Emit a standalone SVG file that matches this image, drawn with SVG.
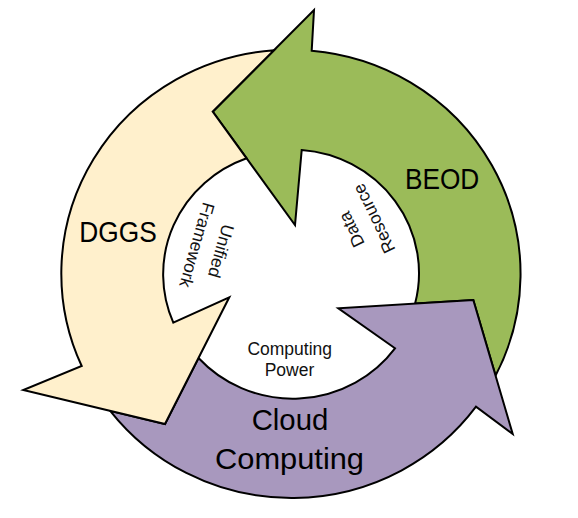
<svg xmlns="http://www.w3.org/2000/svg" width="578" height="518" viewBox="0 0 578 518">
<style>
.arrow{stroke:#000;stroke-width:2;stroke-linejoin:miter}
.big{font-family:"Liberation Sans",Arial,sans-serif;font-size:30px;fill:#000}
.small{font-family:"Liberation Sans",Arial,sans-serif;font-size:17.5px;fill:#111}
</style>
<rect width="578" height="518" fill="#fff"/>
<g id="connectors">
<g id="arrow-beod">
<path class="arrow" fill="#9BBB59" d="M311.7,50.7 L314,10 L212.7,111.7 L295,225 L301.7,150 A127,123.5 0 0 1 415.1,303.5 L473.3,300 L495.6,375.5 A229,224 0 0 0 311.7,50.7 Z"/>
</g>
<g id="arrow-cloud">
<path class="arrow" fill="#A898BE" d="M395,348.3 L338.3,308.3 L473.3,300 L512.7,434 L476,406.7 A229,224 0 0 1 110.2,410.8 L165,424 L198.5,358 A127,123.5 0 0 0 395,348.3 Z"/>
</g>
<g id="arrow-dggs">
<path class="arrow" fill="#FFF0CC" d="M173.3,322.7 L229.3,297.3 L165,424 L23.3,390 L81.7,366 A229,224 0 0 1 274,50.2 L212.7,111.7 L246.6,158.3 A127,123.5 0 0 0 173.3,322.7 Z"/>
</g>
</g>
<g id="node-dggs">
<text class="big" x="79.3" y="241.7" textLength="77.4" lengthAdjust="spacingAndGlyphs">DGGS</text>
</g>
<g id="node-beod">
<text class="big" x="405" y="189" textLength="74.3" lengthAdjust="spacingAndGlyphs">BEOD</text>
</g>
<g id="node-cloud">
<text class="big" x="251.7" y="430" textLength="76.6" lengthAdjust="spacingAndGlyphs">Cloud</text>
<text class="big" x="215" y="469" textLength="149" lengthAdjust="spacingAndGlyphs">Computing</text>
</g>
<g id="label-unified">
<text class="small" text-anchor="middle" transform="translate(221,251) rotate(106)" y="6">Unified</text>
<text class="small" text-anchor="middle" transform="translate(197,245) rotate(106)" y="6">Framework</text>
</g>
<g id="label-data">
<text class="small" text-anchor="middle" transform="translate(351.5,229.5) rotate(-116)" y="6">Data</text>
<text class="small" text-anchor="middle" transform="translate(374,218.5) rotate(-116)" y="6">Resource</text>
</g>
<g id="label-power">
<text class="small" text-anchor="middle" x="289.7" y="354.5">Computing</text>
<text class="small" text-anchor="middle" x="289.5" y="375.7">Power</text>
</g>
</svg>
